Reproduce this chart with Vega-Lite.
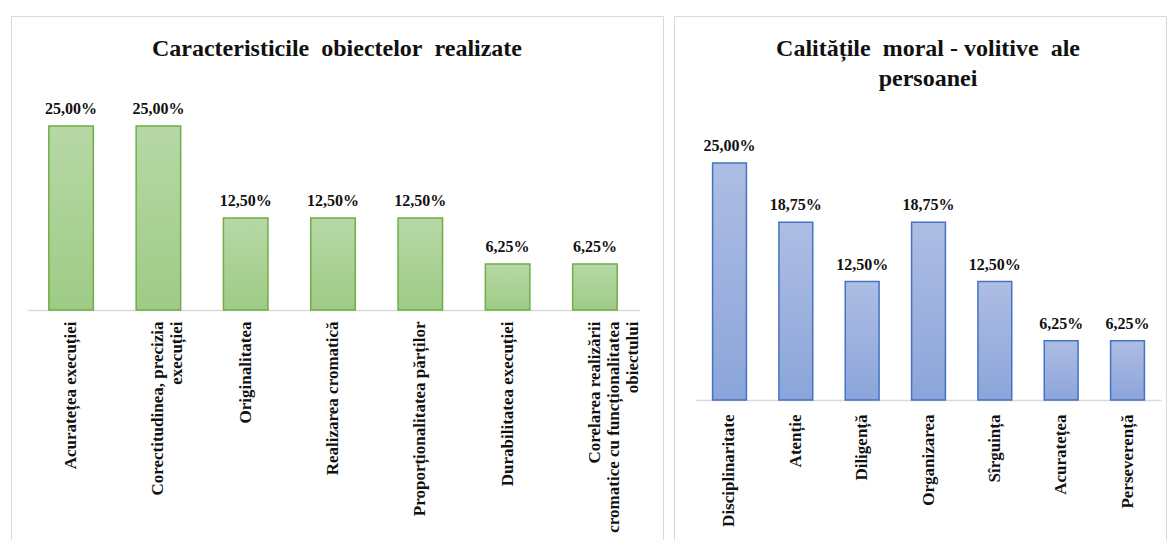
{
  "$schema": "https://vega.github.io/schema/vega-lite/v6.json",
  "padding": {"left": 10, "top": 15, "right": 0, "bottom": 0},
  "spacing": 9,
  "background": "white",
  "config": {
    "locale": {"number": {"decimal": ",", "thousands": ".", "grouping": [3], "currency": ["", " €"]}},
    "view": {"stroke": "#d9d9d9", "strokeWidth": 1},
    "axis": {"domainColor": "#d9d9d9", "domainWidth": 1.5, "ticks": false, "grid": false, "title": null,
             "labelFont": "Liberation Serif", "labelFontWeight": "bold", "labelFontSize": 17, "labelColor": "#111111",
             "labelAngle": -90, "labelAlign": "right", "labelBaseline": "middle", "labelPadding": 11, "labelLimit": 0, "labelLineHeight": 19},
    "title": {"font": "Liberation Serif", "fontWeight": "bold", "fontSize": 24, "color": "#111111", "anchor": "middle"}
  },
  "hconcat": [
    {
      "width": 652,
      "height": 524,
      "title": {"text": "Caracteristicile\u00a0 obiectelor\u00a0 realizate", "offset": -45},
      "data": {"values": [
        {"c": "Acuratețea execuției", "v": 0.25},
        {"c": "Corectitudinea, precizia|execuției", "v": 0.25},
        {"c": "Originalitatea", "v": 0.125},
        {"c": "Realizarea cromatică", "v": 0.125},
        {"c": "Proporționalitatea părților", "v": 0.125},
        {"c": "Durabilitatea execuției", "v": 0.0625},
        {"c": "Corelarea realizării|cromatice cu funcționalitatea|obiectului", "v": 0.0625}
      ]},
      "encoding": {
        "x": {"field": "c", "type": "nominal", "sort": null,
              "scale": {"range": [16, 628], "paddingInner": 0.49, "paddingOuter": 0.25},
              "axis": {"offset": -230, "labelExpr": "split(datum.label, '|')"}},
        "y": {"field": "v", "type": "quantitative", "scale": {"domain": [0, 0.25], "range": [294, 110], "nice": false, "zero": true}, "axis": null}
      },
      "layer": [
        {"mark": {"type": "bar", "stroke": "#70ad47", "strokeWidth": 1.5,
                  "color": {"gradient": "linear", "x1": 0, "y1": 0, "x2": 0, "y2": 1,
                            "stops": [{"offset": 0, "color": "#b7d8a6"}, {"offset": 1, "color": "#9ecb86"}]}}},
        {"mark": {"type": "text", "baseline": "alphabetic", "dy": -12, "font": "Liberation Serif", "fontWeight": "bold", "fontSize": 16, "color": "#111111"},
         "encoding": {"text": {"field": "v", "type": "quantitative", "format": ".2%"}}}
      ]
    },
    {
      "width": 492,
      "height": 524,
      "title": {"text": ["Calitățile\u00a0 moral - volitive\u00a0 ale", "persoanei"], "offset": -75, "lineHeight": 30, "dx": 8},
      "data": {"values": [
        {"c": "Disciplinaritate", "v": 0.25},
        {"c": "Atenție", "v": 0.1875},
        {"c": "Diligență", "v": 0.125},
        {"c": "Organizarea", "v": 0.1875},
        {"c": "Sîrguința", "v": 0.125},
        {"c": "Acuratețea", "v": 0.0625},
        {"c": "Perseverență", "v": 0.0625}
      ]},
      "encoding": {
        "x": {"field": "c", "type": "nominal", "sort": null,
              "scale": {"range": [22, 487], "paddingInner": 0.49, "paddingOuter": 0.25},
              "axis": {"offset": -140, "labelPadding": 14}},
        "y": {"field": "v", "type": "quantitative", "scale": {"domain": [0, 0.25], "range": [384, 147], "nice": false, "zero": true}, "axis": null}
      },
      "layer": [
        {"mark": {"type": "bar", "stroke": "#4472c4", "strokeWidth": 1.5,
                  "color": {"gradient": "linear", "x1": 0, "y1": 0, "x2": 0, "y2": 1,
                            "stops": [{"offset": 0, "color": "#aebde3"}, {"offset": 1, "color": "#8ba5da"}]}}},
        {"mark": {"type": "text", "baseline": "alphabetic", "dy": -12, "font": "Liberation Serif", "fontWeight": "bold", "fontSize": 16, "color": "#111111"},
         "encoding": {"text": {"field": "v", "type": "quantitative", "format": ".2%"}}}
      ]
    }
  ]
}
